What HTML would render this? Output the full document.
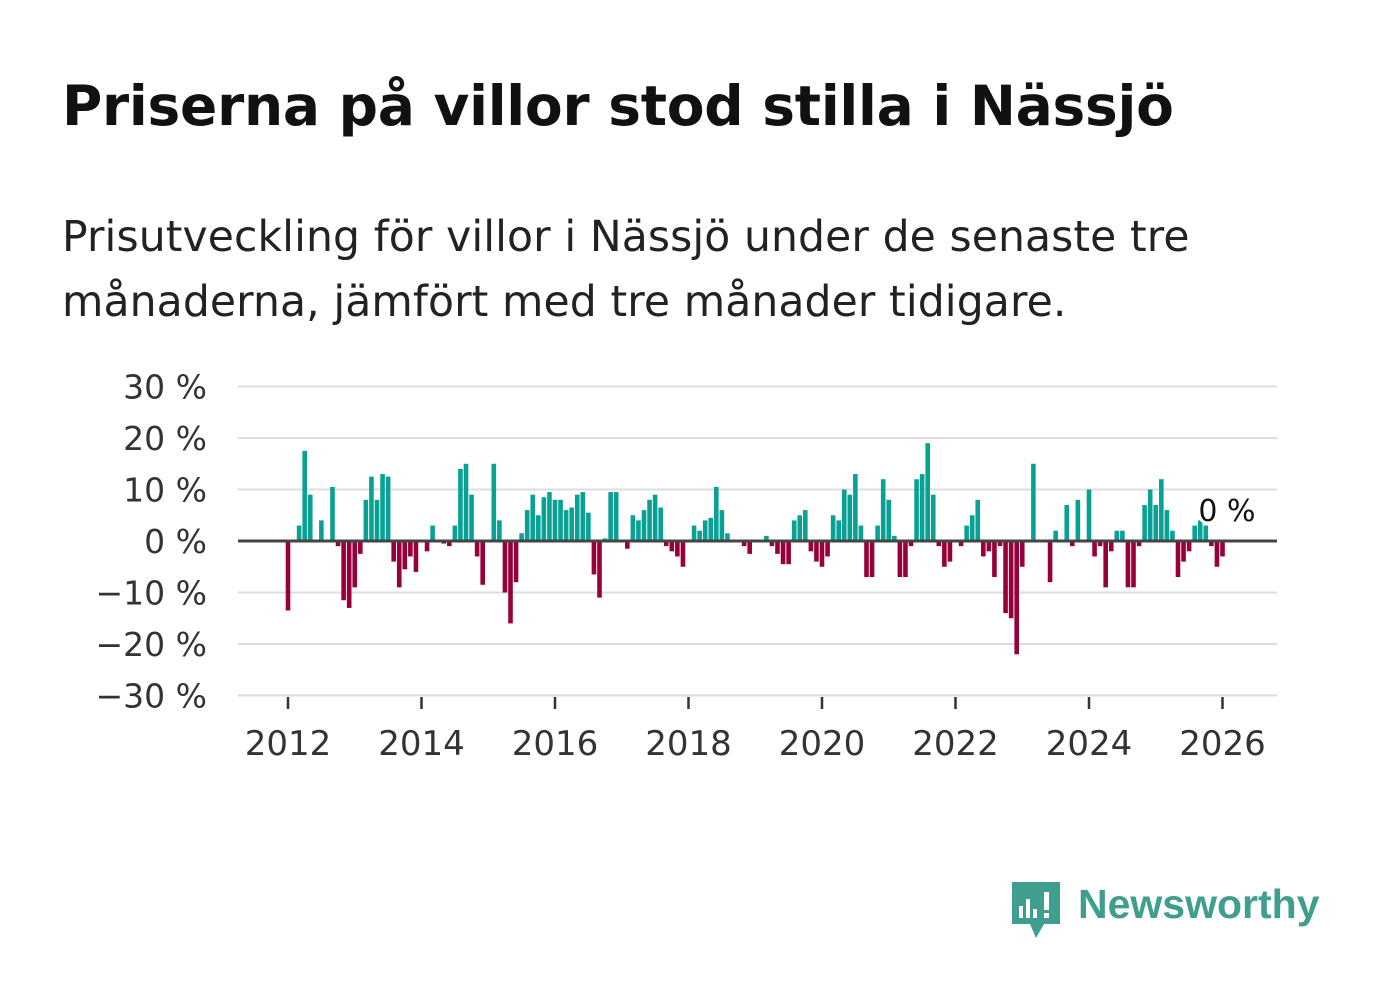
<!DOCTYPE html>
<html><head><meta charset="utf-8"><style>
body{margin:0;width:1382px;height:999px;background:#fff;font-family:"DejaVu Sans","Liberation Sans",sans-serif;overflow:hidden;position:relative}
#title{position:absolute;left:62px;top:74px;font-size:55px;font-weight:bold;color:#111;letter-spacing:-0.25px}
#sub{position:absolute;left:62px;top:205px;font-size:42.5px;line-height:65px;color:#222;width:1300px;letter-spacing:0.1px}
svg{position:absolute;left:0;top:0}
</style></head><body>
<div id="title">Priserna på villor stod stilla i Nässjö</div>
<div id="sub">Prisutveckling för villor i Nässjö under de senaste tre<br>månaderna, jämfört med tre månader tidigare.</div>
<svg id="chart" width="1382" height="999"></svg>
<script>
const yTicks=[30,20,10,0,-10,-20,-30];
const xYears=[2012,2014,2016,2018,2020,2022,2024,2026];
const startYear=2012;
const values=[-13.5,0,3,17.5,9,0,4,0,10.5,-1,-11.5,-13,-9,-2.5,8,12.5,8,13,12.5,-4,-9,-5.5,-3,-6,
0,-2,3,0,-0.5,-1,3,14,15,9,-3,-8.5,0,15,4,-10,-16,-8,1.5,6,9,5,8.5,9.5,
8,8,6,6.5,9,9.5,5.5,-6.5,-11,0.5,9.5,9.5,0,-1.5,5,4,6,8,9,6.5,-1,-2,-3,-5,
0,3,2,4,4.5,10.5,6,1.5,0,0,-1,-2.5,0,0,1,-1,-2.5,-4.5,-4.5,4,5,6,-2,-4,
-5,-3,5,4,10,9,13,3,-7,-7,3,12,8,1,-7,-7,-1,12,13,19,9,-1,-5,-4,
0,-1,3,5,8,-3,-2,-7,-1,-14,-15,-22,-5,0,15,0,0,-8,2,0,7,-1,8,0,
10,-3,-1,-9,-2,2,2,-9,-9,-1,7,10,7,12,6,2,-7,-4,-2,3,4,3,-1,-5,-3];
const NS="http://www.w3.org/2000/svg";
const svg=document.getElementById('chart');
const x0=288,pxYear=66.75,yZero=541,pxPct=5.15;
const X=t=>x0+(t-startYear)*pxYear;
const Y=v=>yZero-v*pxPct;
function mk(tag,attrs){const e=document.createElementNS(NS,tag);for(const k in attrs)e.setAttribute(k,attrs[k]);svg.appendChild(e);return e;}
yTicks.forEach(t=>{
 if(t!==0){const g=mk('line',{x1:238,x2:1277,y1:Y(t),y2:Y(t),stroke:'#ddd','stroke-width':2});
 
 }
 const l=mk('text',{x:207,y:Y(t)+12,'text-anchor':'end','font-size':33,fill:'#333'});
 l.textContent=(t<0?'\u2212'+(-t):t)+' %';
 
 
});
values.forEach((v,i)=>{
 const cx=X(startYear+i/12);
 const b=mk('rect',{x:cx-2.3,y:Math.min(Y(v),yZero),width:4.6,height:Math.abs(Y(v)-yZero),fill:v>=0?'#0aa195':'#98003a'});
 
 
});
const ax=mk('line',{x1:238,x2:1277,y1:yZero,y2:yZero,stroke:'#444','stroke-width':3});


const bl=mk('line',{x1:238,x2:1277,y1:695,y2:695,stroke:'#ddd','stroke-width':1.5});


xYears.forEach(yr=>{
 const tk=mk('line',{x1:X(yr),x2:X(yr),y1:697,y2:709,stroke:'#333','stroke-width':2.5});
 
 
 const t=mk('text',{x:X(yr),y:755,'text-anchor':'middle','font-size':34,fill:'#333'});
 t.textContent=yr;
 
 
});
const ann=mk('text',{x:1227,y:521,'text-anchor':'middle','font-size':30,fill:'#111',stroke:'#fff','stroke-width':6,'paint-order':'stroke'});
ann.textContent='0 %';


</script>
<svg width="1382" height="999">
<path d="M1012 882 h48 v42 h-16 l-8 14 l-6 -14 h-18 z" fill="#3f9e8e"/>
<rect x="1019" y="906" width="4" height="12" fill="#fff"/>
<rect x="1026" y="899" width="4" height="19" fill="#fff"/>
<rect x="1033" y="909" width="4" height="9" fill="#fff"/>
<rect x="1044" y="892" width="5" height="18" fill="#fff"/>
<rect x="1044" y="913" width="5" height="5" fill="#fff"/>
<text x="1078" y="918" font-size="41" font-weight="bold" fill="#3f9e8e" font-family="Liberation Sans, sans-serif">Newsworthy</text>
</svg>
</body></html>
